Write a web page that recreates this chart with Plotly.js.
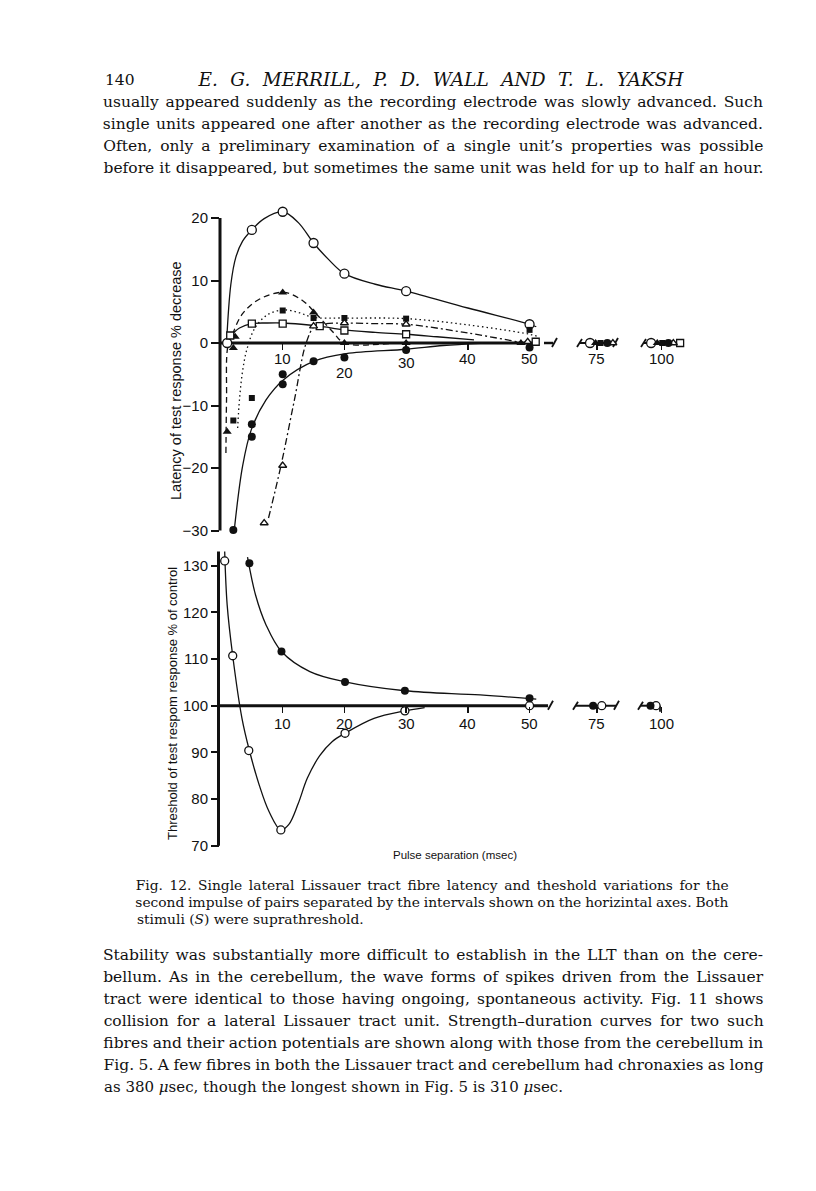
<!DOCTYPE html>
<html><head><meta charset="utf-8">
<script src="https://cdn.plot.ly/plotly-3.0.1.min.js"></script>
<style>html,body{margin:0;padding:0;background:#fff}#chart{width:816px;height:1191px}</style>
</head><body><div id="chart"></div>
<script>
// ================= DATA =================
// Pulse separation (msec) tick labels
const xTickValues = [10, 20, 30, 40, 50, 75, 100];
const xTickLabels = ['10', '20', '30', '40', '50', '75', '100'];
const topYTicks = [-30, -20, -10, 0, 10, 20];
const topYTickLabels = ['\u221230', '\u221220', '\u221210', '0', '10', '20'];
const botYTicks = [70, 80, 90, 100, 110, 120, 130];
const botYTickLabels = ['70', '80', '90', '100', '110', '120', '130'];

// ---- Top panel: latency of test response, % decrease ----
const topOpenCircleX = [1, 5, 10, 15, 20, 30, 50, 75, 100];
const topOpenCircleY = [0, 18.1, 21, 16, 11.1, 8.3, 3, 0, 0];
const topOpenCircleCurveX = [0.9, 1.6, 2.4, 3.5, 5, 7, 10, 12.5, 15, 17.5, 20, 25, 30, 40, 50, 52.5];
const topOpenCircleCurveY = [0, 9.4, 13.7, 16.3, 18.1, 19.9, 21, 19.3, 16, 13.3, 11.1, 9.4, 8.3, 5.6, 3.0, 2.6];

const topFilledTriX = [1, 2, 2.3, 10, 15, 20, 30, 50, 75, 100];
const topFilledTriY = [-14.2, -0.8, 1.0, 8.1, 4.9, 0, 0, 0, 0, 0];
const topFilledTriCurveX = [0.8, 0.9, 1.1, 1.9, 3.5, 6.2, 10.2, 13.2, 15.2, 18.1, 20, 30, 48];
const topFilledTriCurveY = [-17.6, -9, -0.6, 1.5, 4.7, 7.0, 8.1, 6.8, 4.9, 1.8, 0, 0, 0];

const topFilledSqX = [2, 5, 10, 15, 20, 30, 50, 75, 100];
const topFilledSqY = [-12.4, -8.8, 5.2, 4.0, 4.0, 3.9, 2.1, 0, 0];
const topFilledSqCurveX = [2.7, 3.0, 3.5, 4.2, 5.5, 7.5, 10, 12.5, 15, 20, 30, 40, 50, 53.5];
const topFilledSqCurveY = [-13.6, -9, -4.5, -1, 2.4, 4.5, 5.3, 4.9, 4.1, 4.0, 3.9, 2.9, 1.4, 1.0];

const topOpenSqX = [1.5, 5, 10, 16, 20, 30, 50, 100];
const topOpenSqY = [1.2, 3.1, 3.1, 2.7, 2.0, 1.4, 0.2, 0];
const topOpenSqCurveX = [1.2, 2, 3, 5, 7.5, 10, 13, 16, 20, 25, 30, 35, 41];
const topOpenSqCurveY = [0.9, 1.6, 2.4, 3.1, 3.2, 3.2, 3.0, 2.7, 2.1, 1.7, 1.4, 1.0, 0.5];

const topOpenTriX = [7, 10, 15, 20, 30, 50, 75, 100];
const topOpenTriY = [-28.8, -19.6, 2.7, 3.2, 3.0, 0.2, 0, 0];
const topOpenTriCurveX = [7.7, 9.7, 11.9, 13.8, 15.2, 17, 20, 25, 30, 40, 48];
const topOpenTriCurveY = [-28, -19.7, -9.1, 0, 2.7, 3.1, 3.2, 3.1, 3.0, 1.6, 0.2];

const topFilledCircleX = [2, 5, 5, 10, 10, 15, 20, 30, 50, 75, 100];
const topFilledCircleY = [-29.9, -15, -13, -5, -6.6, -2.9, -2.3, -1.1, -0.7, 0, 0];
const topFilledCircleCurveX = [2.2, 3.5, 4.9, 7.3, 10.1, 15.1, 20.3, 30, 36, 42];
const topFilledCircleCurveY = [-29.5, -19.7, -13.9, -9.1, -5.9, -2.9, -1.7, -1.0, -0.4, -0.05];

// ---- Bottom panel: threshold of test response, % of control ----
const botOpenCircleX = [0.6, 1.9, 4.5, 9.7, 20.1, 29.8, 50, 75, 100];
const botOpenCircleY = [131, 110.7, 90.4, 73.4, 94.1, 98.9, 100, 100, 100];
const botOpenCircleCurveX = [0.6, 1.0, 1.9, 3.4, 4.6, 6.2, 7.8, 9.7, 11, 12.5, 14, 16, 18, 20.1, 24.8, 29.8, 33];
const botOpenCircleCurveY = [133, 121.6, 110.7, 97.3, 90.4, 83, 77.3, 73.4, 74.6, 79, 84.5, 89.3, 92.3, 94.1, 97.3, 98.9, 99.6];

const botFilledCircleX = [4.6, 9.8, 20.1, 29.8, 50, 75, 100];
const botFilledCircleY = [130.5, 111.6, 105.1, 103.2, 101.6, 100, 100];
const botFilledCircleCurveX = [4.3, 5.6, 7.3, 9.8, 14.4, 20.1, 29.8, 42, 52.5];
const botFilledCircleCurveY = [131.8, 123.7, 117.3, 111.6, 107.3, 105.1, 103.2, 102.3, 101.4];

// ================= SCALE (broken axis beyond 50 msec) =================
function scaleX(x) {
  if (x <= 50) return x;
  if (x <= 75) return 50 + (x - 50) * (60.9 - 50) / 25;
  return 60.9 + (x - 75) * (71.4 - 60.9) / 25;
}
// small horizontal separation of coincident symbols at the 50/75/100 groups (style only)
function place(xs, offs) {
  return xs.map(x => scaleX(x) + ((offs && offs[x] !== undefined) ? offs[x] : 0));
}

// ================= STYLES =================
const INK = '#111';
const OPEN = (sym, size) => ({symbol: sym, size: size, color: '#fff', line: {color: INK, width: 1.3}});
const FILL = (sym, size) => ({symbol: sym, size: size, color: INK, line: {color: INK, width: 0}});

function curve(xs, ys, dash, xa, ya) {
  return {x: xs.map(scaleX), y: ys, mode: 'lines', xaxis: xa, yaxis: ya, hoverinfo: 'skip',
    line: {color: INK, width: 1.3, shape: 'spline', smoothing: 1, dash: dash}, showlegend: false};
}
function pts(xs, ys, marker, offs, xa, ya) {
  return {x: place(xs, offs), y: ys, mode: 'markers', xaxis: xa, yaxis: ya, marker: marker,
    cliponaxis: false, showlegend: false, hoverinfo: 'skip'};
}

const DASH = '6px,4px', DOT = '1.5px,3px', DASHDOT = '7px,3px,2px,3px';

const data = [
  // top panel curves
  curve(topOpenCircleCurveX, topOpenCircleCurveY, 'solid', 'x', 'y'),
  curve(topFilledTriCurveX, topFilledTriCurveY, DASH, 'x', 'y'),
  curve(topFilledSqCurveX, topFilledSqCurveY, DOT, 'x', 'y'),
  curve(topOpenSqCurveX, topOpenSqCurveY, 'solid', 'x', 'y'),
  curve(topOpenTriCurveX, topOpenTriCurveY, DASHDOT, 'x', 'y'),
  curve(topFilledCircleCurveX, topFilledCircleCurveY, 'solid', 'x', 'y'),
  // top panel points
  pts(topOpenCircleX, topOpenCircleY, OPEN('circle', 9), {75: -1.1, 100: -1.7}, 'x', 'y'),
  pts(topFilledTriX, topFilledTriY, FILL('triangle-up', 8), {50: -1.4, 75: -0.2, 100: -0.7}, 'x', 'y'),
  pts(topFilledSqX, topFilledSqY, FILL('square', 6), {75: 0.6, 100: 0.1}, 'x', 'y'),
  pts(topOpenSqX, topOpenSqY, OPEN('square', 7), {50: 1.0, 100: 3.0}, 'x', 'y'),
  pts(topOpenTriX, topOpenTriY, OPEN('triangle-up', 7), {50: -0.3, 75: 2.6, 100: 1.9}, 'x', 'y'),
  pts(topFilledCircleX, topFilledCircleY, FILL('circle', 8), {75: 1.7, 100: 1.1}, 'x', 'y'),
  // bottom panel
  curve(botOpenCircleCurveX, botOpenCircleCurveY, 'solid', 'x2', 'y2'),
  curve(botFilledCircleCurveX, botFilledCircleCurveY, 'solid', 'x2', 'y2'),
  pts(botOpenCircleX, botOpenCircleY, OPEN('circle', 8), {75: 0.8, 100: -0.9}, 'x2', 'y2'),
  pts(botFilledCircleX, botFilledCircleY, FILL('circle', 8), {75: -0.6, 100: -1.8}, 'x2', 'y2')
];

// ================= LAYOUT =================
const W = 816, H = 1191;
const PX = p => p / W, PY = p => 1 - p / H;
const xDomain = [PX(220), PX(690)];
const xRange = [-0.16, 76];
const SANS = 'Liberation Sans, Arial, Helvetica, sans-serif';
const SERIF = 'DejaVu Serif, Liberation Serif, serif';

function xAxisDef(posPix) {
  return {domain: xDomain, range: xRange, anchor: 'free', position: PY(posPix), side: 'bottom',
    showline: false, showgrid: false, zeroline: false, ticks: 'outside', ticklen: 6, tickwidth: 1.5,
    tickcolor: INK, tickvals: xTickValues.map(scaleX), showticklabels: false, fixedrange: true};
}
function yAxisDef(domPix, range, vals, labels, anchor) {
  return {domain: [PY(domPix[1]), PY(domPix[0])], range: range, anchor: anchor,
    showline: false, showgrid: false, zeroline: false, ticks: 'outside', ticklen: 8, tickwidth: 2,
    tickcolor: INK, tickvals: vals, ticktext: labels, tickfont: {family: SANS, size: 15, color: INK},
    fixedrange: true};
}

const shapes = [];
const L = (x0, y0, x1, y1, w, xref, yref) => shapes.push({type: 'line', x0, y0, x1, y1, xref: xref || 'paper',
  yref: yref || 'paper', line: {color: INK, width: w || 1.5}, layer: 'below'});
// axis lines
L(PX(220), -30, PX(220), 20, 3, 'paper', 'y');
L(-0.16, 0, scaleX(52.2), 0, 3, 'x', 'y');
L(PX(218.5), 70, PX(218.5), 133, 3, 'paper', 'y2');
L(-0.4, 100, 53, 100, 3, 'x2', 'y2');
// axis break marks (top, axis at pixel y 343)
const TB = 343;
L(PX(544), PY(TB), PX(553), PY(TB), 2.5);
L(PX(552), PY(TB + 4), PX(557), PY(TB - 5), 1.8);
L(PX(577), PY(TB + 4), PX(582), PY(TB - 4), 1.8);
L(PX(580), PY(TB), PX(615), PY(TB), 2);
L(PX(613), PY(TB + 4), PX(618), PY(TB - 5), 1.8);
L(PX(641), PY(TB + 4), PX(646), PY(TB - 4), 1.8);
L(PX(644), PY(TB), PX(680), PY(TB), 2);
// axis break marks (bottom, axis at pixel y 705.7)
const BB = 705.7;
L(PX(548), PY(BB + 4), PX(553), PY(BB - 5), 1.8);
L(PX(573), PY(BB + 4), PX(578), PY(BB - 4), 1.8);
L(PX(576), PY(BB), PX(616), PY(BB), 2);
L(PX(614), PY(BB + 4), PX(619), PY(BB - 5), 1.8);
L(PX(638), PY(BB + 4), PX(643), PY(BB - 4), 1.8);
L(PX(641), PY(BB), PX(660), PY(BB), 2);
L(PX(660), PY(BB), PX(660), PY(BB + 6), 1.8);

// ================= TEXT =================
const annotations = [];
const justify = {}; // annotation index -> target width (px)
function txt(text, xPix, yPix, opts) {
  opts = opts || {};
  const a = {text: text, xref: 'paper', yref: 'paper', x: PX(xPix), y: PY(yPix),
    xanchor: opts.xanchor || 'left', yanchor: 'middle', showarrow: false,
    font: Object.assign({family: SERIF, size: 15, color: INK}, opts.font || {})};
  if (opts.textangle !== undefined) a.textangle = opts.textangle;
  annotations.push(a);
  if (opts.width) justify[annotations.length - 1] = opts.width;
}
function jline(text, left, right, yPix, font) {
  txt(text, (left + right) / 2, yPix, {xanchor: 'center', width: right - left, font: font});
}

// page header
txt('140', 103, 80, {font: {size: 15.5}});
jline('E. G. MERRILL, P. D. WALL AND T. L. YAKSH', 198, 683, 80, {size: 18.5, style: 'italic'});

// text above the figure
const bodyTop = [
  'usually appeared suddenly as the recording electrode was slowly advanced. Such',
  'single units appeared one after another as the recording electrode was advanced.',
  'Often, only a preliminary examination of a single unit\u2019s properties was possible',
  'before it disappeared, but sometimes the same unit was held for up to half an hour.'
];
bodyTop.forEach((s, i) => jline(s, 103, 763, 102 + i * 22, {size: 15.5}));

// figure caption
jline('Fig. 12. Single lateral Lissauer tract fibre latency and theshold variations for the', 135, 728, 885, {size: 13.8});
jline('second impulse of pairs separated by the intervals shown on the horizintal axes. Both', 135, 728, 902, {size: 13.8});
txt('stimuli (<i>S</i>) were suprathreshold.', 135, 919, {font: {size: 13.8}});

// text below the figure
const bodyBottom = [
  'Stability was substantially more difficult to establish in the LLT than on the cere-',
  'bellum. As in the cerebellum, the wave forms of spikes driven from the Lissauer',
  'tract were identical to those having ongoing, spontaneous activity. Fig. 11 shows',
  'collision for a lateral Lissauer tract unit. Strength\u2013duration curves for two such',
  'fibres and their action potentials are shown along with those from the cerebellum in',
  'Fig. 5. A few fibres in both the Lissauer tract and cerebellum had chronaxies as long'
];
bodyBottom.forEach((s, i) => jline(s, 103, 763, 955 + i * 22, {size: 15.5}));
txt('as 380 <i>\u03bc</i>sec, though the longest shown in Fig. 5 is 310 <i>\u03bc</i>sec.', 102, 955 + 6 * 22, {font: {size: 15}});

// axis titles
txt('Latency of test response % decrease', 176, 381, {xanchor: 'center', textangle: -90, font: {family: SANS, size: 14.5}});
txt('Threshold of test respom response % of control', 172, 704, {xanchor: 'center', textangle: -90, font: {family: SANS, size: 13}});
txt('Pulse separation (msec)', 455, 855, {xanchor: 'center', font: {family: SANS, size: 11.5}});

// x tick labels (top panel labels are staggered in the original)
const topLabelY = [358, 372, 362, 358, 358, 358, 358];
xTickValues.forEach((v, i) => {
  annotations.push({text: xTickLabels[i], xref: 'x', yref: 'paper', x: scaleX(v), y: PY(topLabelY[i]),
    xanchor: 'center', yanchor: 'middle', showarrow: false, font: {family: SANS, size: 15, color: INK}});
  annotations.push({text: xTickLabels[i], xref: 'x2', yref: 'paper', x: scaleX(v), y: PY(723),
    xanchor: 'center', yanchor: 'middle', showarrow: false, font: {family: SANS, size: 15, color: INK}});
});

const layout = {
  width: W, height: H, margin: {l: 0, r: 0, t: 0, b: 0, pad: 0},
  paper_bgcolor: '#fff', plot_bgcolor: 'rgba(0,0,0,0)', showlegend: false,
  xaxis: xAxisDef(343),
  yaxis: yAxisDef([210, 535], [-30.72, 21.28], topYTicks, topYTickLabels, 'x'),
  xaxis2: xAxisDef(705.7),
  yaxis2: yAxisDef([548, 850], [69.1, 133.77], botYTicks, botYTickLabels, 'x2'),
  shapes: shapes, annotations: annotations
};

Plotly.newPlot('chart', data, layout, {staticPlot: true, displayModeBar: false}).then(gd => {
  try {
    gd.querySelectorAll('g.annotation').forEach(g => {
      const idx = +g.getAttribute('data-index');
      const target = justify[idx];
      if (!target) return;
      const t = g.querySelector('text.annotation-text');
      if (!t) return;
      const w = t.getComputedTextLength();
      const n = (annotations[idx].text.match(/ /g) || []).length;
      if (n > 0) t.style.wordSpacing = ((target - w) / n).toFixed(2) + 'px';
    });
  } catch (e) {}
});
</script>
</body></html>
